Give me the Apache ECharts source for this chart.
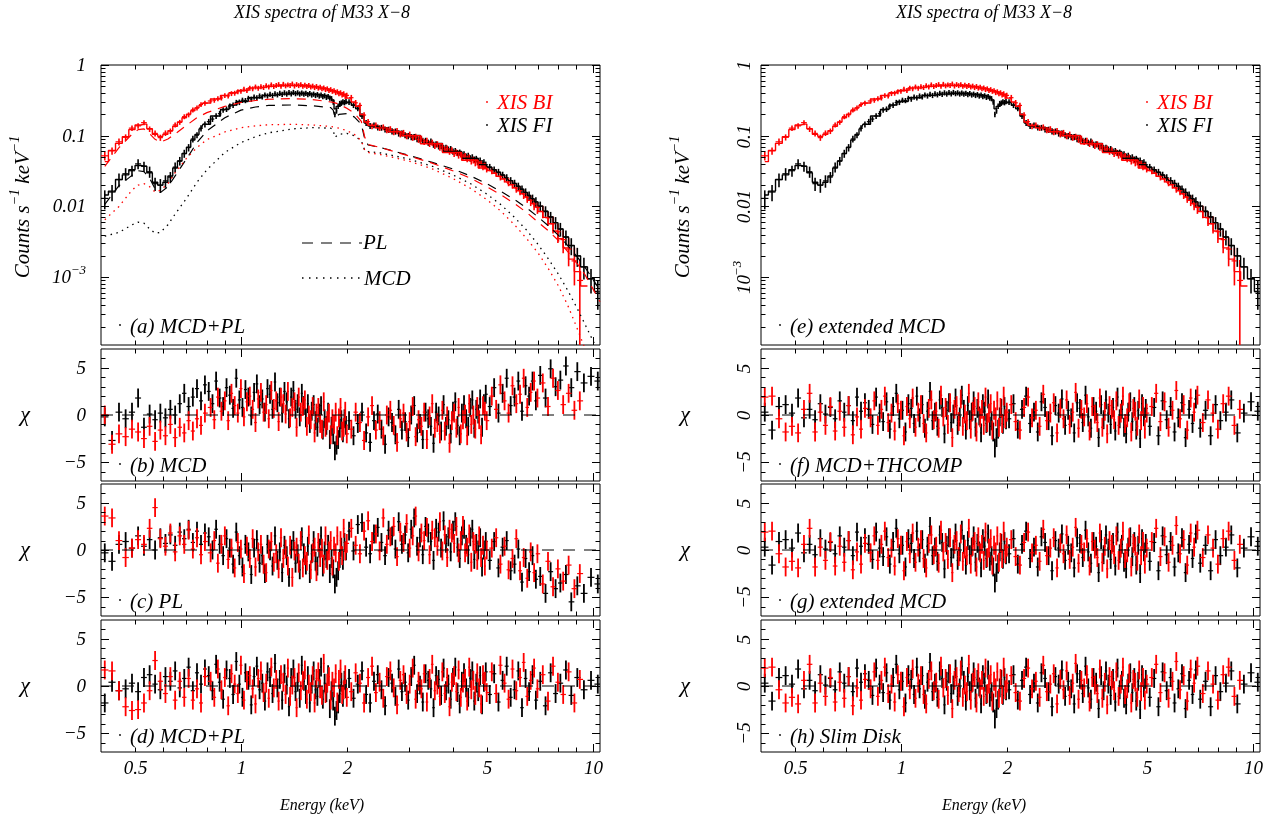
<!DOCTYPE html>
<html><head><meta charset="utf-8"><title>XIS spectra of M33 X-8</title>
<script src="https://cdn.jsdelivr.net/npm/echarts@6.0.0/dist/echarts.min.js"></script>
<style>html,body{margin:0;padding:0;background:#fff;}#chart{width:1273px;height:822px;}</style>
</head><body><div id="chart"></div>
<script>
// ---------------- DATA ----------------
// energy bin centres (keV) of XIS FI
const E_FI = [0.41,0.43,0.45,0.47,0.49,0.51,0.53,0.55,0.57,0.59,0.61,0.63,0.65,0.67,0.69,0.71,0.73,0.75,0.77,0.79,
0.81,0.83,0.85,0.87,0.89,0.91,0.93,0.95,0.97,0.99,1.01,1.03,1.05,1.07,1.09,1.11,1.13,1.15,1.17,1.19,
1.21,1.23,1.25,1.27,1.29,1.31,1.33,1.35,1.37,1.39,1.41,1.43,1.45,1.47,1.49,1.51,1.53,1.55,1.57,1.59,
1.61,1.63,1.65,1.67,1.69,1.71,1.73,1.75,1.77,1.79,1.81,1.83,1.85,1.87,1.89,1.91,1.93,1.95,1.97,1.99,
2.03,2.09,2.15,2.21,2.27,2.33,2.39,2.45,2.51,2.57,2.63,2.69,2.75,2.81,2.87,2.93,2.99,3.05,3.11,3.17,
3.23,3.29,3.35,3.41,3.47,3.53,3.59,3.65,3.71,3.77,3.83,3.89,3.95,4.01,4.07,4.13,4.19,4.25,4.31,4.37,
4.43,4.49,4.55,4.61,4.67,4.73,4.79,4.85,4.91,4.97,
5.1,5.25,5.4,5.55,5.7,5.85,6.0,6.15,6.3,6.45,6.6,6.75,6.9,
7.1,7.35,7.6,7.85,8.1,8.4,8.7,9.05,9.45,9.9,10.35];
// energy bin centres (keV) of XIS BI (its grouping is offset from FI)
const E_BI = [0.41,0.43,0.45,0.47,0.49,0.51,0.53,0.55,0.57,0.59,0.61,0.63,0.65,0.67,0.69,0.71,0.73,0.75,0.77,0.79,
0.82,0.84,0.86,0.88,0.9,0.92,0.94,0.96,0.98,1.0,1.02,1.04,1.06,1.08,1.1,1.12,1.14,1.16,1.18,1.2,
1.22,1.24,1.26,1.28,1.3,1.32,1.34,1.36,1.38,1.4,1.42,1.44,1.46,1.48,1.5,1.52,1.54,1.56,1.58,1.6,
1.62,1.64,1.66,1.68,1.7,1.72,1.74,1.76,1.78,1.8,1.82,1.84,1.86,1.88,1.9,1.92,1.94,1.96,1.98,2.0,
2.06,2.12,2.18,2.24,2.3,2.36,2.42,2.48,2.54,2.6,2.66,2.72,2.78,2.84,2.9,2.96,3.02,3.08,3.14,3.2,
3.26,3.32,3.38,3.44,3.5,3.56,3.62,3.68,3.74,3.8,3.86,3.92,3.98,4.04,4.1,4.16,4.22,4.28,4.34,4.4,
4.46,4.52,4.58,4.64,4.7,4.76,4.82,4.88,4.94,5.0,
5.17,5.32,5.47,5.62,5.77,5.92,6.07,6.22,6.37,6.52,6.67,6.82,6.97,
7.22,7.47,7.72,7.97,8.25,8.55,8.88,9.2,9.6,10.0,10.4];

// count rates (counts s^-1 keV^-1)
const BI_RATE = [0.052,0.061,0.082,0.095,0.128,0.138,0.153,0.124,0.108,0.094,0.109,0.116,0.142,0.155,0.186,0.198,0.232,0.247,0.276,0.288,
0.31,0.318,0.335,0.342,0.37,0.365,0.395,0.4,0.418,0.425,0.455,0.438,0.47,0.462,0.49,0.47,0.495,0.482,0.51,0.49,
0.525,0.498,0.515,0.53,0.5,0.535,0.508,0.525,0.515,0.54,0.505,0.53,0.512,0.528,0.5,0.52,0.498,0.515,0.49,0.505,
0.48,0.498,0.472,0.485,0.462,0.475,0.45,0.462,0.438,0.45,0.425,0.435,0.41,0.418,0.395,0.405,0.38,0.39,0.365,0.372,
0.345,0.292,0.268,0.196,0.158,0.136,0.141,0.129,0.132,0.12,0.124,0.113,0.117,0.105,0.11,0.099,0.104,0.094,0.097,0.088,
0.091,0.082,0.085,0.077,0.08,0.072,0.076,0.068,0.07,0.064,0.066,0.06,0.062,0.056,0.058,0.053,0.0548,0.05,0.0515,0.047,
0.0488,0.044,0.0455,0.0415,0.0428,0.0388,0.04,0.0365,0.0375,0.034,
0.032,0.0298,0.0265,0.0248,0.0222,0.0205,0.0182,0.0168,0.015,0.0134,0.0122,0.0108,0.0097,
0.0085,0.0069,0.0057,0.0044,0.0034,0.0025,0.0017,0.0009,null,null,null];
const FI_RATE = [0.013,0.016,0.024,0.029,0.032,0.04,0.037,0.031,0.021,0.02,0.023,0.026,0.036,0.044,0.056,0.068,0.09,0.102,0.128,0.145,
0.158,0.172,0.19,0.205,0.232,0.238,0.262,0.27,0.295,0.298,0.318,0.315,0.338,0.33,0.352,0.345,0.365,0.355,0.378,0.366,
0.385,0.372,0.392,0.38,0.398,0.385,0.405,0.39,0.408,0.392,0.41,0.395,0.405,0.39,0.402,0.388,0.398,0.382,0.395,0.378,
0.388,0.372,0.382,0.365,0.375,0.358,0.368,0.35,0.358,0.342,0.335,0.3,0.2,0.225,0.262,0.285,0.29,0.302,0.295,0.305,
0.3,0.272,0.245,0.19,0.152,0.138,0.141,0.131,0.13,0.123,0.122,0.116,0.115,0.108,0.108,0.102,0.099,0.096,0.096,0.09,
0.09,0.085,0.085,0.08,0.083,0.075,0.076,0.071,0.072,0.067,0.068,0.064,0.065,0.06,0.061,0.057,0.058,0.054,0.055,0.051,
0.052,0.048,0.0495,0.046,0.047,0.0435,0.0445,0.041,0.042,0.039,
0.036,0.033,0.0305,0.0278,0.0255,0.0232,0.0212,0.0192,0.0175,0.0158,0.0143,0.0128,0.0116,
0.0101,0.0086,0.0071,0.0059,0.0048,0.0037,0.0028,0.002,0.0014,0.00095,0.00062];

// relative 1-sigma errors of the rates
const BI_ERR = [0.14,0.12,0.11,0.1,0.09,0.09,0.08,0.09,0.1,0.1,0.09,0.09,0.08,0.08,0.08,0.08,0.08,0.08,0.08,0.08,
0.08,0.08,0.08,0.08,0.08,0.08,0.08,0.08,0.08,0.08,0.08,0.08,0.08,0.08,0.08,0.08,0.08,0.08,0.08,0.08,
0.08,0.08,0.08,0.08,0.08,0.08,0.08,0.08,0.08,0.08,0.08,0.08,0.08,0.08,0.08,0.08,0.08,0.08,0.08,0.08,
0.08,0.08,0.08,0.08,0.08,0.08,0.08,0.08,0.08,0.08,0.08,0.08,0.085,0.085,0.085,0.085,0.09,0.09,0.09,0.09,
0.095,0.095,0.095,0.095,0.095,0.095,0.095,0.095,0.095,0.095,0.1,0.1,0.1,0.1,0.1,0.1,0.1,0.1,0.1,0.1,
0.1,0.1,0.1,0.1,0.1,0.1,0.1,0.1,0.1,0.1,0.105,0.105,0.105,0.105,0.105,0.105,0.105,0.105,0.105,0.105,
0.11,0.11,0.11,0.11,0.11,0.11,0.11,0.11,0.11,0.11,
0.11,0.115,0.12,0.12,0.13,0.13,0.14,0.14,0.15,0.16,0.17,0.18,0.19,
0.2,0.23,0.27,0.31,0.36,0.43,0.55,0.95,null,null,null];
const FI_ERR = [0.3,0.26,0.22,0.2,0.18,0.16,0.16,0.18,0.21,0.22,0.2,0.18,0.16,0.14,0.13,0.12,0.11,0.1,0.1,0.095,
0.095,0.09,0.09,0.09,0.09,0.09,0.09,0.09,0.09,0.09,0.085,0.085,0.085,0.085,0.085,0.085,0.085,0.085,0.085,0.085,
0.085,0.085,0.085,0.085,0.085,0.085,0.085,0.085,0.085,0.085,0.085,0.085,0.085,0.085,0.085,0.085,0.085,0.085,0.085,0.085,
0.085,0.085,0.085,0.085,0.085,0.085,0.085,0.085,0.085,0.085,0.085,0.085,0.09,0.09,0.09,0.09,0.09,0.09,0.09,0.09,
0.095,0.095,0.095,0.095,0.095,0.095,0.095,0.095,0.095,0.095,0.1,0.1,0.1,0.1,0.1,0.1,0.1,0.1,0.1,0.1,
0.1,0.1,0.1,0.1,0.1,0.1,0.1,0.1,0.1,0.1,0.1,0.1,0.1,0.1,0.1,0.1,0.1,0.1,0.1,0.1,
0.105,0.105,0.105,0.105,0.105,0.105,0.105,0.105,0.105,0.105,
0.11,0.11,0.115,0.115,0.12,0.12,0.125,0.13,0.13,0.14,0.14,0.15,0.16,
0.16,0.17,0.18,0.2,0.22,0.24,0.27,0.3,0.34,0.38,0.44];

// folded total model (step histogram)
const MODEL_E = [0.41,0.43,0.45,0.47,0.49,0.51,0.53,0.55,0.57,0.59,0.61,0.63,0.65,0.67,0.69,0.71,0.73,0.75,0.77,0.79,
0.85,0.9,0.95,1.0,1.1,1.2,1.3,1.4,1.5,1.6,1.7,1.8,1.83,1.85,1.88,1.95,2.03,2.09,2.15,2.21,2.27,2.33,2.5,2.75,3.0,3.5,4.0,4.5,4.97,
5.1,5.25,5.4,5.55,5.7,5.85,6.0,6.15,6.3,6.45,6.6,6.75,6.9,
7.1,7.35,7.6,7.85,8.1,8.4,8.7,9.05,9.45,9.9,10.35];
const MODEL_BI = [0.043,0.062,0.078,0.097,0.122,0.142,0.146,0.126,0.105,0.098,0.105,0.118,0.136,0.156,0.18,0.202,0.226,0.248,0.27,0.29,
0.33,0.37,0.405,0.435,0.475,0.5,0.512,0.515,0.508,0.492,0.468,0.44,0.43,0.42,0.405,0.38,0.34,0.3,0.26,0.2,0.156,0.14,0.129,0.114,0.1,0.077,0.058,0.045,0.035,
0.0322,0.0295,0.0268,0.0245,0.0223,0.0203,0.0184,0.0167,0.0151,0.0136,0.0122,0.011,0.0098,
0.0085,0.007,0.0057,0.0045,0.0035,0.0026,0.0018,0.0012,0.00075,null,null];
const MODEL_FI = [0.0145,0.0165,0.024,0.028,0.033,0.038,0.037,0.03,0.022,0.02,0.022,0.027,0.035,0.044,0.056,0.069,0.087,0.104,0.125,0.145,
0.19,0.235,0.272,0.305,0.345,0.372,0.388,0.396,0.395,0.386,0.37,0.35,0.32,0.24,0.26,0.29,0.295,0.27,0.24,0.19,0.152,0.138,0.13,0.115,0.101,0.078,0.06,0.048,0.039,
0.0358,0.033,0.0304,0.0278,0.0254,0.0232,0.0212,0.0193,0.0175,0.0158,0.0143,0.0129,0.0116,
0.0101,0.0085,0.0071,0.0059,0.0048,0.0037,0.0028,0.002,0.0014,0.00095,0.00063];

// model components of panel (a)
const COMP_E = [0.41,0.45,0.49,0.51,0.53,0.55,0.57,0.59,0.62,0.65,0.7,0.75,0.8,0.9,1.0,1.1,1.2,1.4,1.6,1.8,
1.83,1.85,1.9,2.0,2.1,2.2,2.25,2.3,2.5,3.0,3.5,4.0,4.5,5.0,5.5,6.0,6.5,7.0,7.5,8.0,8.5,9.0,9.5,10.0,10.5];
const PL_BI = [0.037,0.068,0.105,0.122,0.125,0.107,0.089,0.081,0.09,0.106,0.14,0.18,0.212,0.26,0.295,0.315,0.328,0.335,0.325,0.3,
0.296,0.293,0.28,0.245,0.21,0.16,0.095,0.075,0.068,0.052,0.041,0.032,0.025,0.019,0.0145,0.011,0.0082,0.006,0.0045,0.0033,
0.0023,0.0016,0.0011,0.0007,0.00045];
const MCD_BI = [0.0065,0.01,0.017,0.02,0.021,0.019,0.016,0.017,0.021,0.03,0.048,0.068,0.088,0.113,0.13,0.138,0.143,0.145,0.142,0.135,
0.133,0.132,0.128,0.118,0.105,0.085,0.062,0.058,0.054,0.044,0.034,0.025,0.018,0.0125,0.0085,0.0055,0.0035,0.0022,0.0013,0.00075,
0.0004,0.0002,0.0001,0.00005,0.00002];
const PL_FI = [0.0107,0.0197,0.0275,0.032,0.031,0.025,0.0178,0.0157,0.019,0.027,0.047,0.08,0.117,0.18,0.23,0.255,0.268,0.272,0.265,0.25,
0.23,0.18,0.2,0.205,0.185,0.145,0.09,0.074,0.068,0.053,0.042,0.034,0.027,0.021,0.0162,0.0125,0.0095,0.0071,0.0053,0.0039,
0.0028,0.002,0.0014,0.00095,0.00065];
const MCD_FI = [0.0038,0.0043,0.0055,0.006,0.0058,0.0048,0.0042,0.0043,0.0055,0.0078,0.013,0.022,0.033,0.058,0.08,0.097,0.11,0.125,0.13,0.128,
0.12,0.095,0.105,0.108,0.1,0.085,0.062,0.06,0.057,0.047,0.037,0.028,0.021,0.015,0.0105,0.007,0.0046,0.0029,0.0018,0.0011,
0.00065,0.00038,0.00022,0.00013,0.00008];

// residuals (chi) per fit
const RES_B_BI = [0.0,-3.1,-2.0,-2.3,-1.5,-1.8,-2.5,-1.2,-2.8,-1.6,-2.2,-1.0,-2.4,-1.3,-1.9,-0.6,-1.7,-0.4,-1.1,0.2,
0.8,-0.5,1.9,0.4,1.5,-0.6,2.3,1.0,0.2,2.8,-0.2,1.4,2.0,0.6,-0.8,1.7,2.4,0.3,1.1,-0.4,
2.6,0.7,1.5,-0.7,1.9,1.2,0.1,2.5,-0.3,0.8,1.4,-1.3,1.9,0.3,0.9,1.6,-1.2,0.0,-0.5,0.9,
-1.9,0.2,0.8,-0.9,-1.5,1.4,-1.3,-0.6,0.2,-2.1,-0.4,-1.0,0.3,-2.2,-0.3,0.8,-1.7,-1.3,0.4,-2.0,
-1.5,0.3,-0.8,-2.7,-0.2,1.0,-1.6,-0.6,-2.2,0.0,0.5,-1.1,-2.9,-0.4,0.2,-1.8,-0.7,0.9,-2.3,-0.5,
-1.2,0.3,-2.6,-0.1,1.2,-1.4,-0.8,-2.0,0.5,-1.7,-0.1,-3.0,-0.6,0.2,-1.4,0.8,-2.0,-0.5,0.1,-2.2,
1.2,-1.0,0.0,-1.5,0.9,-0.5,-2.1,1.0,0.4,-0.6,
2.0,0.6,3.2,1.5,0.2,3.1,1.2,2.2,3.9,0.8,2.4,3.6,1.8,
3.4,0.9,3.9,2.6,1.1,2.3,0.5,1.5,null,null,null];
const RES_B_FI = [-0.2,-2.7,0.3,-0.4,0.3,1.8,-1.3,0.1,-0.5,0.2,-0.3,0.6,0.0,1.2,2.3,0.9,1.9,2.8,1.5,3.2,
2.5,1.2,3.6,1.8,0.9,2.9,2.1,0.7,3.9,1.6,0.8,2.7,1.9,-0.1,2.4,3.3,1.1,1.7,0.3,2.8,
2.2,0.6,3.5,1.3,1.9,0.2,2.5,1.4,-0.4,1.9,2.6,0.6,1.2,-0.2,2.3,1.0,-0.3,1.2,-0.9,0.4,
1.1,-0.6,-1.3,0.2,1.0,-1.6,-0.4,-1.1,0.3,-2.6,-1.2,-2.1,-3.8,-3.2,-2.6,-1.4,-0.5,-1.9,-0.4,-1.1,
-0.6,-2.2,-0.9,0.3,-1.9,-2.9,-0.6,0.1,-1.5,-3.1,-0.2,-0.8,-2.1,0.6,-1.6,-0.7,-2.4,0.0,1.0,-1.9,
-0.9,-2.6,0.3,-0.4,-1.2,-3.0,0.3,-0.1,-1.7,1.1,-1.2,-0.5,-2.0,0.4,1.4,-1.1,-2.2,0.2,1.1,-0.4,
-1.2,0.8,1.6,-1.4,0.6,0.1,1.7,-1.3,1.2,2.2,
0.9,2.9,0.2,2.3,3.9,1.0,1.9,3.6,0.4,3.1,2.0,3.6,1.5,
4.2,1.8,4.9,3.0,3.7,5.2,2.9,4.6,3.4,4.1,3.6];
const RES_C_BI = [3.6,3.4,1.0,-0.8,0.2,1.1,0.6,2.3,4.5,1.2,0.4,1.8,-0.2,1.5,0.6,2.1,0.1,1.3,-0.5,0.9,
-0.3,1.0,-1.4,0.6,1.5,-1.0,0.2,-1.9,0.8,0.1,-2.5,0.4,-0.9,1.2,-1.8,-0.2,0.6,-1.5,-2.4,0.1,
0.9,-1.3,-0.4,-2.0,1.3,-0.9,0.1,-1.7,0.5,-2.9,-0.1,0.3,-1.4,1.0,-1.9,-0.6,-1.2,1.6,-2.1,-0.3,
0.3,-2.3,0.8,-0.8,0.2,-1.5,1.5,-1.1,-0.1,1.0,-1.7,0.4,-0.3,1.5,-1.2,1.0,-0.6,2.3,-0.1,0.7,
2.3,0.5,-0.4,2.0,3.1,0.9,1.7,-0.1,3.4,0.6,1.4,2.5,-0.7,1.9,0.8,2.8,0.2,1.5,3.6,-0.2,
1.8,1.0,2.4,-0.5,2.1,1.3,0.4,3.0,-0.1,1.6,-0.8,2.2,1.8,0.7,2.5,-0.3,1.0,2.6,-0.3,0.3,
1.7,-1.3,0.9,0.6,-1.1,1.5,-0.8,0.5,-1.7,0.0,
0.2,1.3,-1.5,0.4,-2.1,-0.9,1.2,-2.2,-0.8,-3.0,-0.2,-2.4,-0.4,
-3.6,-1.2,-3.9,-2.0,-3.3,-1.6,-4.1,-2.5,null,null,null];
const RES_C_FI = [-0.3,-1.2,0.6,0.9,0.2,1.5,0.4,1.1,0.0,1.3,0.7,1.6,0.5,1.9,1.2,2.2,0.8,2.0,0.6,1.8,
1.4,0.0,2.2,0.6,-0.6,1.2,0.2,-1.5,1.9,-0.6,-1.8,0.6,-0.2,-2.6,0.2,1.1,-1.4,-0.6,-2.5,0.6,
-0.1,-1.7,1.5,-1.1,-0.2,-2.4,0.5,-0.6,-2.9,0.1,1.0,-1.4,-0.4,-2.1,1.4,-0.3,-1.6,0.4,-2.5,-0.4,
1.0,-1.2,-1.7,0.2,1.5,-1.8,-0.1,-0.9,0.6,-2.5,-0.9,-2.0,-3.6,-2.9,-2.2,-0.9,0.3,-1.1,0.8,-0.1,
2.0,-0.1,2.7,2.9,0.3,-0.4,1.7,2.4,0.8,-0.6,2.1,1.5,0.1,3.0,0.6,1.6,-0.3,2.2,3.4,0.4,
1.3,-0.5,2.5,1.8,0.9,-1.1,2.3,1.9,0.2,3.1,0.7,1.4,-0.2,2.1,3.0,0.3,-0.9,1.5,2.2,0.6,
-0.5,1.4,2.2,-1.0,0.7,0.0,1.3,-1.8,0.0,0.9,
-1.1,0.9,-1.9,0.3,1.0,-2.2,-1.5,0.1,-3.4,-0.9,-2.3,-0.6,-3.1,
-2.8,-4.6,-2.3,-4.1,-3.5,-2.6,-5.5,-3.8,-4.6,-2.9,-3.6];
const RES_D_BI = [1.7,1.6,-0.5,-2.2,-2.6,-2.5,-1.8,-0.5,2.7,0.5,-0.8,1.0,-1.5,0.5,-1.2,0.8,-1.5,-0.3,-1.8,1.0,
0.5,-1.2,1.8,-0.4,0.9,-2.1,1.3,0.2,-0.8,2.2,-1.5,0.6,1.1,-0.3,-1.9,0.8,1.6,-0.7,0.3,-1.3,
2.0,-0.2,0.7,-1.6,1.2,0.4,-0.9,1.9,-1.1,0.1,0.9,-2.3,1.4,-0.5,0.6,1.7,-1.4,0.2,-0.6,1.1,
-1.8,0.8,1.5,-0.3,-1.0,2.4,-0.8,0.3,1.0,-1.5,0.5,-0.2,1.3,-1.7,0.7,1.8,-0.9,-0.4,1.2,-1.2,
-0.6,1.4,0.3,-1.8,0.9,2.1,-0.7,0.4,-1.3,1.0,1.6,-0.2,-2.0,0.6,1.2,-0.9,0.2,1.9,-1.4,0.5,
-0.3,1.3,-1.7,0.8,2.3,-0.5,0.1,-1.1,1.5,-0.8,0.9,-2.2,0.4,1.1,-0.6,1.7,-1.2,0.3,0.8,-1.6,
2.0,-0.4,0.6,-1.0,1.4,-0.2,-1.9,1.2,0.5,-0.7,
1.5,-0.8,2.2,0.3,-1.4,1.8,-0.5,0.9,2.5,-1.1,0.6,1.9,-0.3,
1.2,-1.6,2.1,0.4,-0.9,1.5,-1.8,0.7,null,null,null];
const RES_D_FI = [-1.8,0.4,-0.5,-0.3,0.3,-0.6,0.9,1.2,0.2,-0.4,1.0,0.5,1.6,-0.2,0.8,2.0,-0.5,1.4,0.2,1.8,
1.1,-0.5,2.3,0.4,-1.4,1.7,0.8,-0.9,2.6,0.2,-1.2,1.4,0.6,-2.0,1.0,2.1,-0.4,0.3,-1.6,1.5,
0.9,-0.8,2.4,-0.2,0.7,-1.5,1.3,0.1,-2.2,0.9,1.8,-0.6,0.4,-1.3,2.2,0.5,-0.9,1.1,-1.8,0.2,
1.6,-0.4,-1.1,0.8,2.0,-1.4,0.3,-0.7,1.2,-2.4,-0.5,-1.6,-3.2,-2.6,-1.9,-0.8,0.4,-1.2,0.6,-0.3,
0.8,-1.3,0.2,1.6,-0.9,-1.8,0.5,1.2,-0.4,-2.1,0.9,0.3,-1.1,1.8,-0.6,0.4,-1.5,1.0,2.2,-0.8,
0.1,-1.7,1.3,0.6,-0.3,-2.3,1.1,0.7,-1.0,1.9,-0.5,0.2,-1.4,0.9,2.0,-0.7,-1.9,0.5,1.4,-0.2,
-1.2,0.8,1.6,-1.6,0.3,-0.6,1.1,-2.0,0.4,1.5,
-0.9,1.3,-1.7,0.6,2.1,-1.2,-0.4,1.6,-2.3,0.8,-0.6,1.2,-1.5,
0.5,-2.1,1.4,-0.8,0.3,1.7,-1.0,0.9,-0.4,0.6,0.2];
// (f), (g), (h): the three acceptable fits give practically the same residuals
const RES_F_BI = [1.9,2.0,-0.4,-1.8,-1.2,-1.9,0.6,2.3,-1.8,0.3,-1.1,0.9,-1.7,0.4,-1.3,1.0,-2.1,-0.2,-1.5,0.7,
-0.3,1.5,-1.1,0.6,2.0,-0.8,0.2,-1.7,1.2,0.5,-2.2,0.9,-0.4,1.8,-1.3,0.3,1.1,-0.9,-1.9,0.7,
1.6,-0.5,0.4,-1.4,2.1,-0.2,0.8,-1.0,1.3,-2.4,0.6,1.0,-0.7,1.7,-1.2,0.1,-0.6,2.3,-1.5,0.4,
0.9,-1.8,1.4,-0.3,0.6,-1.1,1.9,-0.8,0.2,1.2,-1.6,0.5,-0.2,1.5,-1.3,0.8,-0.9,2.0,-0.4,0.3,
1.1,-0.7,-1.6,0.8,1.9,-0.3,0.5,-1.2,2.2,-0.6,0.2,1.3,-1.9,0.7,-0.4,1.6,-1.0,0.3,2.4,-1.4,
0.6,-0.2,1.2,-1.7,0.9,0.1,-0.8,1.8,-1.3,0.4,-2.0,1.0,0.6,-0.5,1.5,-1.1,0.2,2.0,-0.9,-0.3,
1.3,-1.8,0.7,0.4,-1.2,1.7,-0.6,0.9,-1.5,0.2,
0.9,2.3,-0.7,1.4,-1.3,0.5,2.6,-0.4,1.1,-1.6,1.8,0.3,2.1,
-0.8,1.6,0.2,-1.5,1.2,2.0,-1.1,0.6,null,null,null];
const RES_F_FI = [0.3,-1.6,0.9,1.1,0.2,1.8,-0.3,0.6,-0.5,1.2,0.1,0.8,-0.4,1.5,0.3,1.0,-0.6,1.9,0.4,1.3,
0.6,-1.0,1.9,0.2,-0.7,1.4,-1.5,0.9,2.3,-0.4,0.5,-1.8,1.2,0.7,-0.9,2.0,-0.3,1.1,-1.4,0.4,
2.5,-0.6,0.3,-1.2,1.6,0.8,-2.0,0.5,1.3,-0.8,0.1,1.8,-1.1,-0.2,2.1,0.6,-1.6,1.0,-0.5,0.3,
1.5,-1.3,0.7,-0.1,-1.9,1.2,0.4,-0.9,1.7,-1.2,-0.6,-1.8,-3.5,-2.4,-1.5,-0.2,0.7,-1.0,0.9,-0.5,
-0.4,1.2,-1.5,0.6,2.0,-0.9,0.3,-1.8,1.4,0.8,-0.6,-2.2,1.0,0.2,1.7,-1.1,0.5,-0.3,-1.9,1.3,
0.7,-0.8,2.1,-0.2,-1.4,0.9,0.4,-2.4,1.1,-0.5,1.6,0.2,-1.0,0.8,-1.7,1.9,-0.4,0.6,-1.3,-2.0,
0.3,1.4,-0.7,0.9,-1.6,0.5,-2.5,1.2,-0.2,0.7,
-1.2,0.8,-2.2,1.5,-0.5,0.9,-1.8,-0.3,1.3,-2.4,0.6,-0.9,1.7,
-1.4,0.5,-2.2,1.1,-0.6,0.3,1.6,-1.9,0.2,1.4,0.4];

// axis ticks and labels
const X_TICKS = [0.5,0.6,0.7,0.8,0.9,1,2,3,4,5,6,7,8,9,10];
const X_MAJOR = [1,10];
const X_LABELS = [0.5,1,2,5,10];
const Y_LOG_TICKS = [0.0002,0.0003,0.0004,0.0005,0.0006,0.0007,0.0008,0.0009,0.001,0.002,0.003,0.004,0.005,0.006,0.007,0.008,0.009,
0.01,0.02,0.03,0.04,0.05,0.06,0.07,0.08,0.09,0.1,0.2,0.3,0.4,0.5,0.6,0.7,0.8,0.9,1];
const Y_LOG_MAJOR = [0.001,0.01,0.1,1];
const Y_LOG_LABELS = [1,0.1,0.01,0.001];
const Y_LOG_TEXT = ['1','0.1','0.01',['10','\u22123']];
const Y_RES_TICKS = [-6,-5,-4,-3,-2,-1,0,1,2,3,4,5,6];
const Y_RES_MAJOR = [-5,0,5];
const Y_RES_LABELS = [5,0,-5];
const Y_RES_TEXT = ['5','0','\u22125'];
const PANEL_LABELS = ['(a) MCD+PL','(b) MCD','(c) PL','(d) MCD+PL','(e) extended MCD','(f) MCD+THCOMP','(g) extended MCD','(h) Slim Disk'];

// ---------------- LAYOUT / STYLE ----------------
const FONT = '"Liberation Serif","Times New Roman",serif';
const ft = s => 'italic ' + s + 'px ' + FONT;
const RED = '#ff0000', BLK = '#000000';
const COL_X = [101, 761], COL_W = 499;
const ROW_Y = [[65, 280], [349, 132], [484, 132], [620, 132]];

const binsOf = arr => arr.map((v, i) => [
  i > 0 ? (arr[i - 1] + v) / 2 : v - (arr[1] - arr[0]) / 2,
  i < arr.length - 1 ? (v + arr[i + 1]) / 2 : v + (v - arr[i - 1]) / 2]);
const BINS_BI = binsOf(E_BI), BINS_FI = binsOf(E_FI);

function specRows(en, bins, rate, err) {
  const out = [];
  rate.forEach((r, i) => {
    if (r == null || err[i] == null) return;
    out.push([en[i], r, bins[i][0], bins[i][1], Math.max(r * (1 - err[i]), 1e-6), r * (1 + err[i])]);
  });
  return out;
}
function resRows(en, bins, res) {
  const out = [];
  res.forEach((r, i) => { if (r == null) return; out.push([en[i], r, bins[i][0], bins[i][1], r - 1, r + 1]); });
  return out;
}
const seg = (x1, y1, x2, y2, c, w) => ({ type: 'line', shape: { x1, y1, x2, y2 }, style: { stroke: c, lineWidth: w || 1 } });
function tEl(x, y, text, size, align, rot) {
  const el = { type: 'text', x, y, style: { text, font: ft(size), fill: '#000', align: align || 'center', verticalAlign: 'middle', textAlign: align || 'center', textVerticalAlign: 'middle' } };
  if (rot) el.rotation = Math.PI / 2;
  return el;
}

const grids = [], xAxes = [], yAxes = [], series = [];

function errSeries(gi, rows, color, z, vw) {
  return {
    type: 'custom', xAxisIndex: gi, yAxisIndex: gi, clip: true, silent: true, z, data: rows,
    renderItem(params, api) {
      const x = api.value(0), y = api.value(1);
      const p = api.coord([x, y]);
      const l = api.coord([api.value(2), y]), r = api.coord([api.value(3), y]);
      const b = api.coord([x, api.value(4)]), t = api.coord([x, api.value(5)]);
      return { type: 'group', children: [seg(l[0], p[1], r[0], p[1], color, 1.2), seg(p[0], b[1], p[0], t[1], color, vw)] };
    }
  };
}
function xTicks(gi, yRef, withLabels) {
  return {
    type: 'custom', xAxisIndex: gi, yAxisIndex: gi, silent: true, clip: false, z: 8,
    data: X_TICKS.map(v => [v, yRef, X_MAJOR.indexOf(v) >= 0 ? 1 : 0, X_LABELS.indexOf(v)]),
    renderItem(params, api) {
      const cs = params.coordSys;
      const x = Math.round(api.coord([api.value(0), yRef])[0]) + 0.5;
      const L = api.value(2) ? 8 : 4.5, b = cs.y + cs.height;
      const ch = [seg(x, b, x, b - L, BLK), seg(x, cs.y, x, cs.y + L, BLK)];
      const li = api.value(3);
      if (withLabels && li >= 0) ch.push(tEl(x, b + 17, String(X_LABELS[li]), 19, 'center'));
      return { type: 'group', children: ch };
    }
  };
}
function yLabel(x, y, lab, rotated) {
  if (typeof lab === 'string') return rotated ? tEl(x, y, lab, 19, 'center', true) : tEl(x, y, lab, 19, 'right');
  if (rotated) return { type: 'group', x, y, rotation: Math.PI / 2, children: [tEl(-7, 0, lab[0], 19, 'center'), tEl(9, -7, lab[1], 13, 'center')] };
  return { type: 'group', children: [tEl(x - 15, y, lab[0], 19, 'right'), tEl(x, y - 7, lab[1], 13, 'right')] };
}
function yTicks(gi, ticks, major, labels, texts, rotated) {
  return {
    type: 'custom', xAxisIndex: gi, yAxisIndex: gi, silent: true, clip: false, z: 8,
    data: ticks.map(v => [1, v, major.indexOf(v) >= 0 ? 1 : 0, labels.indexOf(v)]),
    renderItem(params, api) {
      const cs = params.coordSys;
      const y = Math.round(api.coord([1, api.value(1)])[1]) + 0.5;
      const L = api.value(2) ? 8 : 4.5, r = cs.x + cs.width;
      const ch = [seg(cs.x, y, cs.x + L, y, BLK), seg(r, y, r - L, y, BLK)];
      const li = api.value(3);
      if (li >= 0) ch.push(yLabel(rotated ? cs.x - 16 : cs.x - 15, y, texts[li], rotated));
      return { type: 'group', children: ch };
    }
  };
}
function lineSeries(gi, xs, ys, color, opts) {
  return Object.assign({
    type: 'line', xAxisIndex: gi, yAxisIndex: gi, silent: true, symbol: 'none', animation: false,
    data: xs.map((x, i) => [x, ys[i]]), lineStyle: { color, width: 1.4 }, z: 4
  }, opts || {});
}

const RESID = [null, [RES_B_BI, RES_B_FI], [RES_C_BI, RES_C_FI], [RES_D_BI, RES_D_FI]];
const RESID_R = [null, [RES_F_BI, RES_F_FI], [RES_F_BI, RES_F_FI], [RES_F_BI, RES_F_FI]];

for (let col = 0; col < 2; col++) {
  for (let row = 0; row < 4; row++) {
    const gi = grids.length;
    grids.push({ left: COL_X[col], top: ROW_Y[row][0], width: COL_W, height: ROW_Y[row][1], show: true, borderColor: '#000', borderWidth: 1, backgroundColor: 'rgba(0,0,0,0)', containLabel: false });
    xAxes.push({ type: 'log', logBase: 10, gridIndex: gi, min: 0.4, max: 10.5, show: false });
    if (row === 0) {
      yAxes.push({ type: 'log', logBase: 10, gridIndex: gi, min: 1.1e-4, max: 1, show: false });
      series.push(errSeries(gi, specRows(E_FI, BINS_FI, FI_RATE, FI_ERR), BLK, 2, 1.6));
      series.push(errSeries(gi, specRows(E_BI, BINS_BI, BI_RATE, BI_ERR), RED, 3, 1.6));
      series.push(lineSeries(gi, MODEL_E, MODEL_FI, BLK, { step: 'middle' }));
      series.push(lineSeries(gi, MODEL_E, MODEL_BI, RED, { step: 'middle' }));
      if (col === 0) {
        series.push(lineSeries(gi, COMP_E, PL_FI, BLK, { lineStyle: { color: BLK, width: 1.2, type: [9, 7] } }));
        series.push(lineSeries(gi, COMP_E, PL_BI, RED, { lineStyle: { color: RED, width: 1.2, type: [9, 7] } }));
        series.push(lineSeries(gi, COMP_E, MCD_FI, BLK, { lineStyle: { color: BLK, width: 1.3, type: [1.5, 4.5] } }));
        series.push(lineSeries(gi, COMP_E, MCD_BI, RED, { lineStyle: { color: RED, width: 1.3, type: [1.5, 4.5] } }));
      }
      series.push(yTicks(gi, Y_LOG_TICKS, Y_LOG_MAJOR, Y_LOG_LABELS, Y_LOG_TEXT, col === 1));
      series.push(xTicks(gi, 0.1, false));
    } else {
      yAxes.push({ type: 'value', gridIndex: gi, min: -7, max: 7, interval: 1, show: false });
      const rr = (col === 0 ? RESID : RESID_R)[row];
      series.push(errSeries(gi, resRows(E_FI, BINS_FI, rr[1]), BLK, 2, 1.8));
      series.push(errSeries(gi, resRows(E_BI, BINS_BI, rr[0]), RED, 3, 1.8));
      series.push(lineSeries(gi, [0.4, 10.5], [0, 0], BLK, { lineStyle: { color: BLK, width: 1, type: [12, 9] }, z: 5 }));
      series.push(yTicks(gi, Y_RES_TICKS, Y_RES_MAJOR, Y_RES_LABELS, Y_RES_TEXT, col === 1));
      series.push(xTicks(gi, 0, row === 3));
    }
  }
}

// ---------------- TEXT / LEGENDS ----------------
const gtext = (x, y, text, size, color, align, rot) => {
  const el = { type: 'text', x, y, silent: true, z: 20, style: { text, font: ft(size), fill: color || '#000', align: align || 'center', verticalAlign: 'middle', textAlign: align || 'center', textVerticalAlign: 'middle' } };
  if (rot) el.rotation = Math.PI / 2;
  return el;
};
const dot = (x, y, c) => ({ type: 'circle', shape: { cx: x, cy: y, r: 0.9 }, style: { fill: c }, silent: true, z: 20 });
const graphic = [];
const COL_CENTER = [322, 984];
const YTITLE_X = [21, 681], CHI_X = [25, 685];
const PANEL_LABEL_X = [130, 790];
const PANEL_LABEL_Y = [327, 466, 602, 737];
for (let col = 0; col < 2; col++) {
  graphic.push(gtext(COL_CENTER[col], 13, 'XIS spectra of M33 X\u22128', 18, '#000', 'center'));
  graphic.push(gtext(COL_CENTER[col], 806, 'Energy (keV)', 16, '#000', 'center'));
  graphic.push({ type: 'text', x: YTITLE_X[col], y: 207, rotation: Math.PI / 2, silent: true, z: 20,
    style: { text: '{a|Counts s}{s|\u22121}{a| keV}{s|\u22121}', align: 'center', verticalAlign: 'middle', textAlign: 'center', textVerticalAlign: 'middle', fill: '#000',
      rich: { a: { font: ft(21), lineHeight: 25, verticalAlign: 'bottom', fill: '#000' }, s: { font: ft(14), lineHeight: 25, verticalAlign: 'top', fill: '#000' } } } });
  for (let row = 1; row < 4; row++) {
    graphic.push(gtext(CHI_X[col], ROW_Y[row][0] + ROW_Y[row][1] / 2, '\u03c7', 22, '#000', 'center'));
  }
  for (let row = 0; row < 4; row++) {
    graphic.push(dot(PANEL_LABEL_X[col] - 10, PANEL_LABEL_Y[row] - 2, '#000'));
    graphic.push(gtext(PANEL_LABEL_X[col], PANEL_LABEL_Y[row], PANEL_LABELS[col * 4 + row], 21, '#000', 'left'));
  }
  const lx = COL_X[col] + 396;
  graphic.push(dot(lx - 10, 102, RED));
  graphic.push(gtext(lx, 103, 'XIS BI', 21, RED, 'left'));
  graphic.push(dot(lx - 10, 125, BLK));
  graphic.push(gtext(lx, 126, 'XIS FI', 21, BLK, 'left'));
}
// component legend of panel (a)
graphic.push({ type: 'line', shape: { x1: 302, y1: 243, x2: 362, y2: 243 }, style: { stroke: '#000', lineWidth: 1.2, lineDash: [11, 8] }, silent: true, z: 20 });
graphic.push(gtext(363, 243, 'PL', 21, '#000', 'left'));
graphic.push({ type: 'line', shape: { x1: 302, y1: 278, x2: 362, y2: 278 }, style: { stroke: '#000', lineWidth: 1.3, lineDash: [1.5, 5.5] }, silent: true, z: 20 });
graphic.push(gtext(364, 279, 'MCD', 21, '#000', 'left'));

const chart = echarts.init(document.getElementById('chart'), null, { renderer: 'canvas' });
chart.setOption({
  animation: false,
  backgroundColor: '#ffffff',
  grid: grids, xAxis: xAxes, yAxis: yAxes, series, graphic
});
</script></body></html>
